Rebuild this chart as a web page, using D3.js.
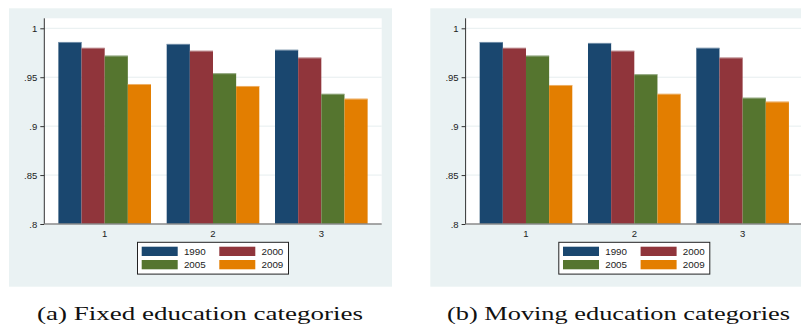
<!DOCTYPE html>
<html>
<head>
<meta charset="utf-8">
<script src="https://cdn.jsdelivr.net/npm/d3@7"></script>
<style>
  html, body { margin: 0; padding: 0; background: #ffffff; }
  svg { display: block; }
</style>
</head>
<body>
<svg id="chart" width="801" height="330"></svg>
<script>
// Categories on the x axis and the survey years shown as bars
const categories = ["1", "2", "3"];
const years = ["1990", "2000", "2005", "2009"];
const yTicks = [0.8, 0.85, 0.9, 0.95, 1];
const yTickLabels = [".8", ".85", ".9", ".95", "1"];

// (a) Fixed education categories
const fixed1990 = [0.986, 0.984, 0.978];
const fixed2000 = [0.980, 0.977, 0.970];
const fixed2005 = [0.972, 0.954, 0.933];
const fixed2009 = [0.943, 0.941, 0.928];

// (b) Moving education categories
const moving1990 = [0.986, 0.985, 0.980];
const moving2000 = [0.980, 0.977, 0.970];
const moving2005 = [0.972, 0.953, 0.929];
const moving2009 = [0.942, 0.933, 0.925];

const colors = ["#1a476f", "#90353b", "#55752f", "#e37e00"];
const edgeColors = ["#8fa6bb", "#c49a9d", "#a3b595", "#f0bd80"];

const captions = ["(a) Fixed education categories", "(b) Moving education categories"];

const svg = d3.select("#chart");

function drawPanel(offsetX, seriesList, caption, captionX, captionLen) {
  const g = svg.append("g").attr("transform", `translate(${offsetX},0)`);

  // Stata-style light outer region
  g.append("rect")
    .attr("x", 9).attr("y", 8.3)
    .attr("width", 383).attr("height", 278.4)
    .attr("fill", "#eaf2f3");

  const left = 44.3, right = 381.7, top = 18.3, bottom = 224;

  g.append("rect")
    .attr("x", left).attr("y", top)
    .attr("width", right - left).attr("height", bottom - top)
    .attr("fill", "#ffffff");

  const y = d3.scaleLinear().domain([0.8, 1]).range([bottom, 28.3]);
  const x0 = d3.scaleBand().domain(categories).range([left, right])
    .paddingInner(0.145).paddingOuter(0.13);
  const x1 = d3.scaleBand().domain(years).range([0, x0.bandwidth()]);

  // Gridlines
  g.append("g").selectAll("line")
    .data(yTicks.filter(t => t > 0.8))
    .join("line")
    .attr("x1", left).attr("x2", right)
    .attr("y1", d => y(d)).attr("y2", d => y(d))
    .attr("stroke", "#e6eeef").attr("stroke-width", 1);

  // Bars
  const rows = categories.map((c, i) => ({
    cat: c,
    vals: years.map((yr, j) => ({ year: yr, idx: j, v: seriesList[j][i] }))
  }));

  const groups = g.append("g").selectAll("g")
    .data(rows).join("g")
    .attr("transform", d => `translate(${x0(d.cat)},0)`);

  groups.selectAll("rect")
    .data(d => d.vals).join("rect")
    .attr("x", d => x1(d.year))
    .attr("y", d => y(d.v))
    .attr("width", x1.bandwidth())
    .attr("height", d => y(0.8) - y(d.v))
    .attr("fill", d => colors[d.idx]);

  // light top edge of each bar
  groups.selectAll("line.edge")
    .data(d => d.vals).join("line")
    .attr("class", "edge")
    .attr("x1", d => x1(d.year)).attr("x2", d => x1(d.year) + x1.bandwidth())
    .attr("y1", d => y(d.v) + 0.4).attr("y2", d => y(d.v) + 0.4)
    .attr("stroke", d => edgeColors[d.idx]).attr("stroke-width", 0.8);

  // Y axis
  const yAxis = d3.axisLeft(y)
    .tickValues(yTicks)
    .tickFormat((d, i) => yTickLabels[i])
    .tickSize(4).tickPadding(3);
  const ya = g.append("g").attr("transform", `translate(${left},0)`).call(yAxis);
  ya.select(".domain").attr("d", `M0,${top}V${bottom}`).attr("stroke", "#333333").attr("stroke-width", 1);
  ya.selectAll(".tick line").attr("stroke", "#333333");
  ya.selectAll(".tick text")
    .attr("font-family", "'Liberation Sans', Arial, sans-serif")
    .attr("font-size", "9.5px").attr("fill", "#222222");

  // X axis
  const xAxis = d3.axisBottom(x0).tickSize(0).tickPadding(6);
  const xa = g.append("g").attr("transform", `translate(0,${bottom})`).call(xAxis);
  xa.select(".domain").attr("d", `M${left},0H${right}`).attr("stroke", "#8a8a8a").attr("stroke-width", 1.6);
  xa.selectAll(".tick text")
    .attr("font-family", "'Liberation Sans', Arial, sans-serif")
    .attr("font-size", "9.5px").attr("fill", "#222222");

  // Legend
  const lg = g.append("g");
  const lx = 137.5, ly = 242.3, lw = 151, lh = 31.8;
  lg.append("rect")
    .attr("x", lx).attr("y", ly).attr("width", lw).attr("height", lh)
    .attr("fill", "#ffffff").attr("stroke", "#222222").attr("stroke-width", 1);

  const cols = [141.7, 219.3];
  const rowsY = [246.7, 260];
  years.forEach((yr, i) => {
    const cx = cols[i % 2], cy = rowsY[Math.floor(i / 2)];
    lg.append("rect")
      .attr("x", cx).attr("y", cy).attr("width", 36).attr("height", 9.3)
      .attr("fill", colors[i]);
    lg.append("text")
      .attr("x", cx + 64).attr("y", cy + 8.3)
      .attr("text-anchor", "end")
      .attr("font-family", "'Liberation Sans', Arial, sans-serif")
      .attr("font-size", "9.8px").attr("fill", "#222222")
      .text(yr);
  });

  // Caption below the panel
  svg.append("text")
    .attr("x", captionX).attr("y", 319.5)
    .attr("text-anchor", "middle")
    .attr("font-family", "'Liberation Serif', 'Times New Roman', serif")
    .attr("font-size", "18px").attr("fill", "#111111")
    .attr("textLength", captionLen)
    .attr("lengthAdjust", "spacingAndGlyphs")
    .text(caption);
}

drawPanel(0, [fixed1990, fixed2000, fixed2005, fixed2009], captions[0], 200, 326);
drawPanel(421.3, [moving1990, moving2000, moving2005, moving2009], captions[1], 618.5, 343);
</script>
</body>
</html>
